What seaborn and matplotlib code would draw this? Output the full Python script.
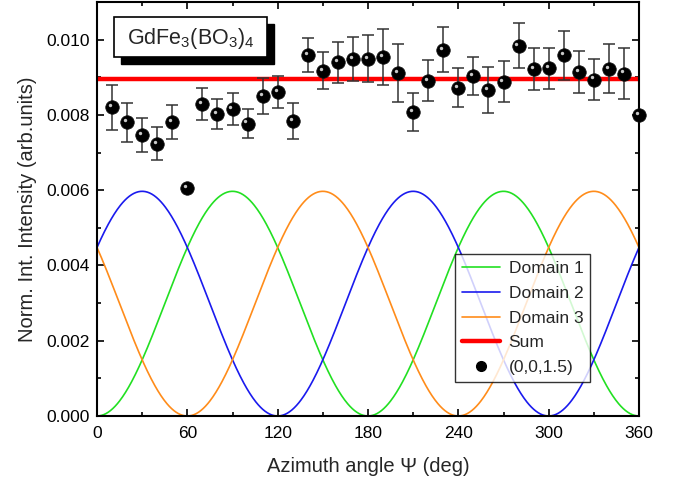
import numpy as np
import pandas as pd
import matplotlib
matplotlib.use("Agg")
import matplotlib.pyplot as plt
import matplotlib.transforms as mtransforms
from matplotlib.patches import Rectangle
from matplotlib.lines import Line2D
import seaborn as sns

# ---- data ----
angle = [10, 20, 30, 40, 50, 60, 70, 80, 90, 100, 110, 120, 130, 140, 150, 160, 170, 180,
         190, 200, 210, 220, 230, 240, 250, 260, 270, 280, 290, 300, 310, 320, 330, 340, 350, 360]
intensity = [0.00820, 0.00780, 0.00747, 0.00723, 0.00781, 0.00605, 0.00829, 0.00802, 0.00816,
             0.00777, 0.00850, 0.00861, 0.00784, 0.00959, 0.00917, 0.00940, 0.00949, 0.00949,
             0.00953, 0.00911, 0.00808, 0.00891, 0.00973, 0.00872, 0.00904, 0.00866, 0.00888,
             0.00984, 0.00922, 0.00924, 0.00959, 0.00914, 0.00894, 0.00923, 0.00910, 0.00799]
error = [0.00059, 0.00052, 0.00046, 0.00044, 0.00045, 0.0, 0.00042, 0.00040, 0.00043,
         0.00038, 0.00048, 0.00042, 0.00048, 0.00046, 0.00049, 0.00055, 0.00059, 0.00062,
         0.00074, 0.00077, 0.00051, 0.00055, 0.00060, 0.00052, 0.00051, 0.00062, 0.00054,
         0.00060, 0.00055, 0.00055, 0.00065, 0.00055, 0.00055, 0.00066, 0.00069, 0.0]

# model: three domains, I = A * sin^2(psi - phase)
domain_names = ["Domain 1", "Domain 2", "Domain 3"]
domain_phase = [0, 120, 60]
domain_colors = ["#22e022", "#1a1aee", "#ff8c1a"]
amplitude = 0.00597

x_ticks = [0, 60, 120, 180, 240, 300, 360]
y_ticks = [0.000, 0.002, 0.004, 0.006, 0.008, 0.010]

sns.set_theme(style="ticks")
plt.rcParams['font.family'] = ['Liberation Sans', 'DejaVu Sans']
plt.rcParams['mathtext.fontset'] = 'custom'
plt.rcParams['mathtext.rm'] = 'Liberation Sans'
plt.rcParams['mathtext.it'] = 'Liberation Sans'

fig = plt.figure(figsize=(6.79, 4.82), dpi=100)
ax = fig.add_axes([97 / 679, 66 / 482, 542 / 679, 414 / 482])

psi = np.linspace(0, 360, 721)
rows = []
for name, ph in zip(domain_names, domain_phase):
    vals = amplitude * np.sin(np.radians(psi - ph)) ** 2
    rows.append(pd.DataFrame({"psi": psi, "I": vals, "domain": name}))
curves = pd.concat(rows)
sns.lineplot(data=curves, x="psi", y="I", hue="domain", palette=domain_colors,
             linewidth=1.2, ax=ax, legend=False)
sum_vals = curves.groupby("psi")["I"].sum().reset_index()
sns.lineplot(data=sum_vals, x="psi", y="I", color="#ff0000", linewidth=3.2, ax=ax)

ax.errorbar(angle, intensity, yerr=error, fmt="none", ecolor="#333333",
            elinewidth=1.1, capsize=4, capthick=1.1, zorder=3)
df = pd.DataFrame({"angle": angle, "I": intensity})
sns.scatterplot(data=df, x="angle", y="I", color="black", s=95, edgecolor="#111111",
                linewidth=0.5, zorder=4, ax=ax, clip_on=False)
hl = mtransforms.offset_copy(ax.transData, fig=fig, x=-1.5, y=1.5, units="points")
ax.scatter(angle, intensity, s=6, color="#c8c8c8", transform=hl, zorder=5,
           linewidths=0, clip_on=False)

ax.set_xlim(0, 360)
ax.set_ylim(0, 0.011)
ax.set_xticks(x_ticks)
ax.set_xticklabels([str(t) for t in x_ticks])
ax.set_xticks(np.arange(30, 360, 60), minor=True)
ax.set_yticks(y_ticks)
ax.set_yticklabels([f"{t:.3f}" for t in y_ticks])
ax.set_yticks(np.arange(0.001, 0.011, 0.002), minor=True)
ax.tick_params(which="both", direction="in", top=True, right=True, colors="black",
               labelsize=12.5, width=1.2)
ax.tick_params(which="major", length=5)
ax.tick_params(which="minor", length=3)
ax.tick_params(axis="x", which="major", pad=7)
ax.tick_params(axis="y", which="major", pad=5)
for s in ax.spines.values():
    s.set_color("black")
    s.set_linewidth(1.5)

ax.set_xlabel("Azimuth angle Ψ (deg)", fontsize=14.5, labelpad=12)
ax.set_ylabel("Norm. Int. Intensity (arb.units)", fontsize=14.5, labelpad=7)

# title box with shadow
ax.add_patch(Rectangle((0.044, 0.850), 0.283, 0.097, transform=ax.transAxes,
                       facecolor="black", edgecolor="black", zorder=6))
ax.add_patch(Rectangle((0.031, 0.867), 0.283, 0.097, transform=ax.transAxes,
                       facecolor="white", edgecolor="black", linewidth=1.2, zorder=7))
ax.text(0.1725, 0.913, r"GdFe$_3$(BO$_3$)$_4$", transform=ax.transAxes,
        ha="center", va="center", fontsize=15.5, zorder=8)

# legend
handles = [Line2D([], [], color=c, lw=1.2) for c in domain_colors]
handles.append(Line2D([], [], color="#ff0000", lw=3.2))
handles.append(Line2D([], [], marker="o", color="black", linestyle="none", markersize=7))
leg = ax.legend(handles, domain_names + ["Sum", "(0,0,1.5)"], loc="upper left",
                bbox_to_anchor=(0.660, 0.391), borderaxespad=0, fontsize=12.5,
                frameon=True, fancybox=False, handlelength=2.2, labelspacing=0.55,
                handletextpad=0.5, borderpad=0.4)
leg.get_frame().set_edgecolor("black")
leg.get_frame().set_linewidth(1.0)
leg.set_zorder(9)

fig.savefig("out.png", dpi=100)
